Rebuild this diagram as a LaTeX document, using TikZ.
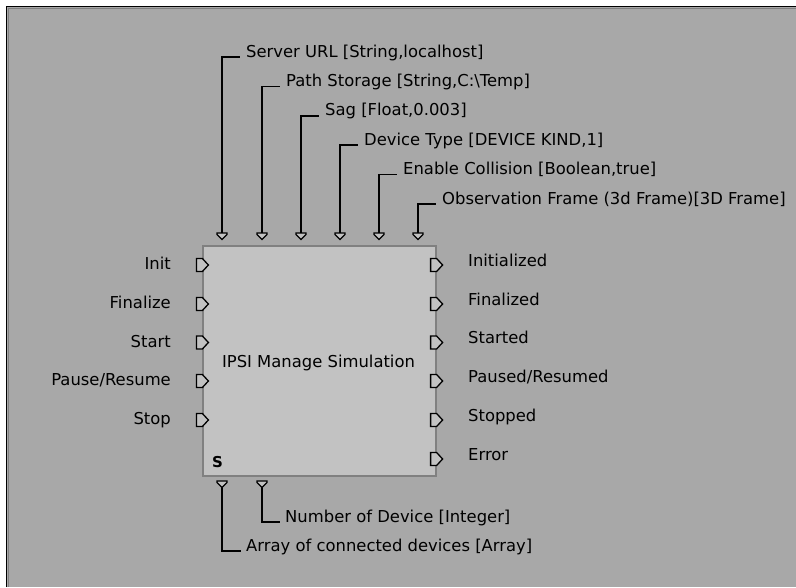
\documentclass[tikz,border=0pt]{standalone}
\usepackage{fontspec}
\setmainfont{DejaVu Sans}
\definecolor{panelgray}{RGB}{168,168,168}
\definecolor{blockgray}{RGB}{194,194,194}
\definecolor{edgegray}{RGB}{128,128,128}
\begin{document}
\begin{tikzpicture}[x=1pt,y=-1pt,
    font=\fontsize{16.4}{19}\selectfont,
    wire/.style={black,line width=1.5pt},
    lbl/.style={inner sep=0pt},
    sideport/.pic={\draw[black,line width=1.3pt,fill=blockgray]
        (-6,-6.5) -- (0,-6.5) -- (6,0) -- (0,6.5) -- (-6,6.5) -- cycle;},
    downport/.pic={\draw[black,line width=1.1pt,fill=blockgray]
        (-5,0) -- (5,0) -- (5,1.5) -- (0,6.5) -- (-5,1.5) -- cycle;}]
    \useasboundingbox (0,0) rectangle (796,587);
    \fill[white] (0,0) rectangle (796,587);

    % panel
    \fill[panelgray] (7,7) rectangle (796,587);
    \draw[black,line width=1.8pt] (6.5,587) -- (6.5,6.5) -- (796,6.5);
    \draw[edgegray,line width=0.8pt] (8.6,587) -- (8.6,8.6) -- (796,8.6);

    % block
    \node (blk) [draw=edgegray, line width=1.2pt, fill=blockgray,
        minimum width=233pt, minimum height=230pt, inner sep=0pt]
        at (319.5,361) {};
    \node (title) [lbl, anchor=base] at (318.5,367) {IPSI Manage Simulation};
    \node (sym) [lbl, anchor=base west] at (212,467)
        {\fontsize{15}{16}\selectfont\bfseries S};

    % parameters on top
    \foreach \i/\x/\y/\txt in {
        1/222/56/{Server URL [String,localhost]},
        2/262/85.4/{Path Storage [String,C:\textbackslash Temp]},
        3/301/114.8/{Sag [Float,0.003]},
        4/340/144.2/{Device Type [DEVICE KIND,1]},
        5/379/173.6/{Enable Collision [Boolean,true]},
        6/418/203/{Observation Frame (3d Frame)[3D Frame]}}
    {
        \coordinate (tp\i) at (\x,233);
        \node (tl\i) [lbl, anchor=base west] at (\x+24,\y+1) {\txt};
        \draw[wire] (tp\i) |- ([xshift=-6pt]tl\i.base west);
        \pic at (tp\i) {downport};
    }

    % inputs
    \foreach \i/\y/\txt in {1/265/Init, 2/304/Finalize, 3/342.5/Start,
        4/381/{Pause/Resume}, 5/420/Stop}
    {
        \coordinate (in\i) at (blk.west |- 0,\y);
        \node (il\i) [lbl, anchor=base east] at (171,\y+4.5) {\txt};
        \pic at (in\i) {sideport};
    }

    % outputs
    \foreach \i/\y/\txt in {1/265/Initialized, 2/304/Finalized, 3/342.5/Started,
        4/381/{Paused/Resumed}, 5/420/Stopped, 6/459/Error}
    {
        \coordinate (out\i) at (blk.east |- 0,\y);
        \node (ol\i) [lbl, anchor=base west] at (468,\y+1) {\txt};
        \pic at (out\i) {sideport};
    }

    % parameters at the bottom
    \foreach \i/\x/\y/\dx/\txt in {
        1/222/550/24/{Array of connected devices [Array]},
        2/262/521/23/{Number of Device [Integer]}}
    {
        \coordinate (bp\i) at (\x,481);
        \node (bl\i) [lbl, anchor=base west] at (\x+\dx,\y+1) {\txt};
        \draw[wire] ([yshift=-6pt]bp\i) |- ([xshift=-5pt]bl\i.base west);
        \pic at (bp\i) {downport};
    }
\end{tikzpicture}
\end{document}
